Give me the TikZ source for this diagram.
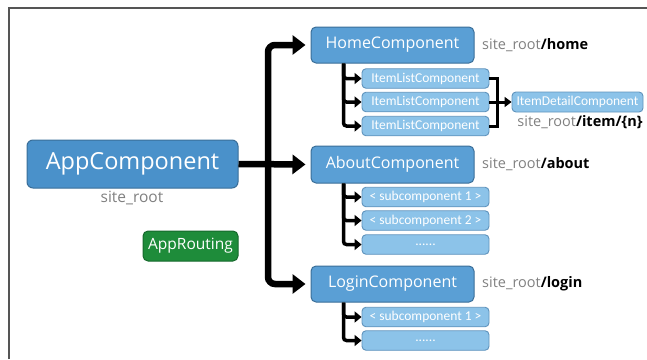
\documentclass[tikz,border=0pt]{standalone}
\usepackage{fontspec}
\setmainfont{Open Sans}
\newfontfamily\calfont{Carlito}
\usetikzlibrary{arrows.meta}
\definecolor{bigfill}{HTML}{4A91CA}
\definecolor{bigedge}{HTML}{3A6E98}
\definecolor{midfill}{HTML}{5A9FD5}
\definecolor{smallfill}{HTML}{8CC3E9}
\definecolor{smalledge}{HTML}{5F93BC}
\definecolor{greenfill}{HTML}{1E8C3A}
\definecolor{greenedge}{HTML}{16692C}
\definecolor{rootgray}{HTML}{808080}
\definecolor{framegray}{HTML}{555555}
\begin{document}
\begin{tikzpicture}[x=1pt,y=-1pt,
  compbox/.style={draw=bigedge, fill=midfill, line width=1pt, rounded corners=5pt,
    text=white, inner sep=0pt, minimum width=163pt, minimum height=36pt, font=\fontsize{16}{16}\selectfont},
  subbox/.style={draw=smalledge, fill=smallfill, line width=0.9pt, rounded corners=4pt,
    text=white, inner sep=0pt, minimum width=127pt, minimum height=19.5pt, font=\calfont\fontsize{13.5}{13.5}\selectfont},
  routelabel/.style={anchor=west, inner sep=0pt, text=rootgray, font=\fontsize{14.5}{14.5}\selectfont},
  trunk/.style={line width=6.5pt, draw=black, rounded corners=7pt,
    -{Triangle[length=13pt,width=19pt]}, shorten >=5pt},
  branch/.style={line width=3.5pt, draw=black, rounded corners=3pt,
    -{Triangle[length=7pt,width=11pt]}},
  bracket/.style={line width=3pt, draw=black}]
\useasboundingbox (0,0) rectangle (647,359);
% frame edges
\draw[framegray, line width=1.5pt] (9,359) -- (9,8) -- (647,8);

% root component and routing module
\node[draw=bigedge, fill=bigfill, line width=1pt, rounded corners=6pt, text=white, inner sep=0pt,
  minimum width=211pt, minimum height=48pt, font=\fontsize{23.5}{23.5}\selectfont]
  (app) at (132.5,164) {AppComponent};
\node[text=rootgray, inner sep=0pt, font=\fontsize{15.5}{15.5}\selectfont] (applabel) at (132,198) {site\_root};
\node[draw=greenedge, fill=greenfill, line width=1pt, rounded corners=5pt, text=white, inner sep=0pt,
  minimum width=95pt, minimum height=30pt, font=\fontsize{15.5}{15.5}\selectfont]
  (routing) at (190.5,246) {AppRouting};

% routed components
\node[compbox] (home) at (392.5,45) {HomeComponent};
\node[compbox, minimum height=37pt] (about) at (392.5,164.5) {AboutComponent};
\node[compbox] (login) at (392.5,284) {LoginComponent};

\node[routelabel] (homelabel) at (482,45) {site\_root\textcolor{black}{\textbf{/home}}};
\node[routelabel] (aboutlabel) at (482,164.5) {site\_root\textcolor{black}{\textbf{/about}}};
\node[routelabel] (loginlabel) at (482,284) {site\_root\textcolor{black}{\textbf{/login}}};

% home children
\node[subbox] (item1) at (425.5,78.5) {ItemListComponent};
\node[subbox] (item2) at (425.5,102) {ItemListComponent};
\node[subbox] (item3) at (425.5,126) {ItemListComponent};
\node[subbox, minimum width=131pt, minimum height=20pt] (detail) at (577.5,102) {ItemDetailComponent};
\node[text=rootgray, inner sep=0pt, font=\fontsize{14.5}{14.5}\selectfont] (detaillabel) at (580,122)
  {site\_root\textcolor{black}{\textbf{/item/\{n\}}}};

% about children
\node[subbox] (asub1) at (425.5,197) {< subcomponent 1 >};
\node[subbox] (asub2) at (425.5,220.5) {< subcomponent 2 >};
\node[subbox] (asub3) at (425.5,244.5) {......};

% login children
\node[subbox] (lsub1) at (425.5,317) {< subcomponent 1 >};
\node[subbox] (lsub2) at (425.5,340.5) {......};

% main routing trunk
\coordinate (split) at (268,164);
\draw[trunk] (app.east) -- (about.west);
\draw[trunk] (split) |- (home.west);
\draw[trunk] (split) |- (login.west);

% child branches
\coordinate (homedrop) at ([xshift=33pt]home.south west);
\coordinate (aboutdrop) at ([xshift=33pt]about.south west);
\coordinate (logindrop) at ([xshift=33pt]login.south west);
\foreach \c in {item1,item2,item3} \draw[branch] (homedrop) |- (\c.west);
\foreach \c in {asub1,asub2,asub3} \draw[branch] (aboutdrop) |- (\c.west);
\foreach \c in {lsub1,lsub2} \draw[branch] (logindrop) |- (\c.west);

% list items merging into the detail view
\coordinate (join) at ([xshift=8pt]item2.east);
\draw[bracket] (item1.east) -| (join) |- (item3.east);
\draw[bracket, -{Triangle[length=7pt,width=10pt]}] (item2.east) -- (detail.west);
\end{tikzpicture}
\end{document}
